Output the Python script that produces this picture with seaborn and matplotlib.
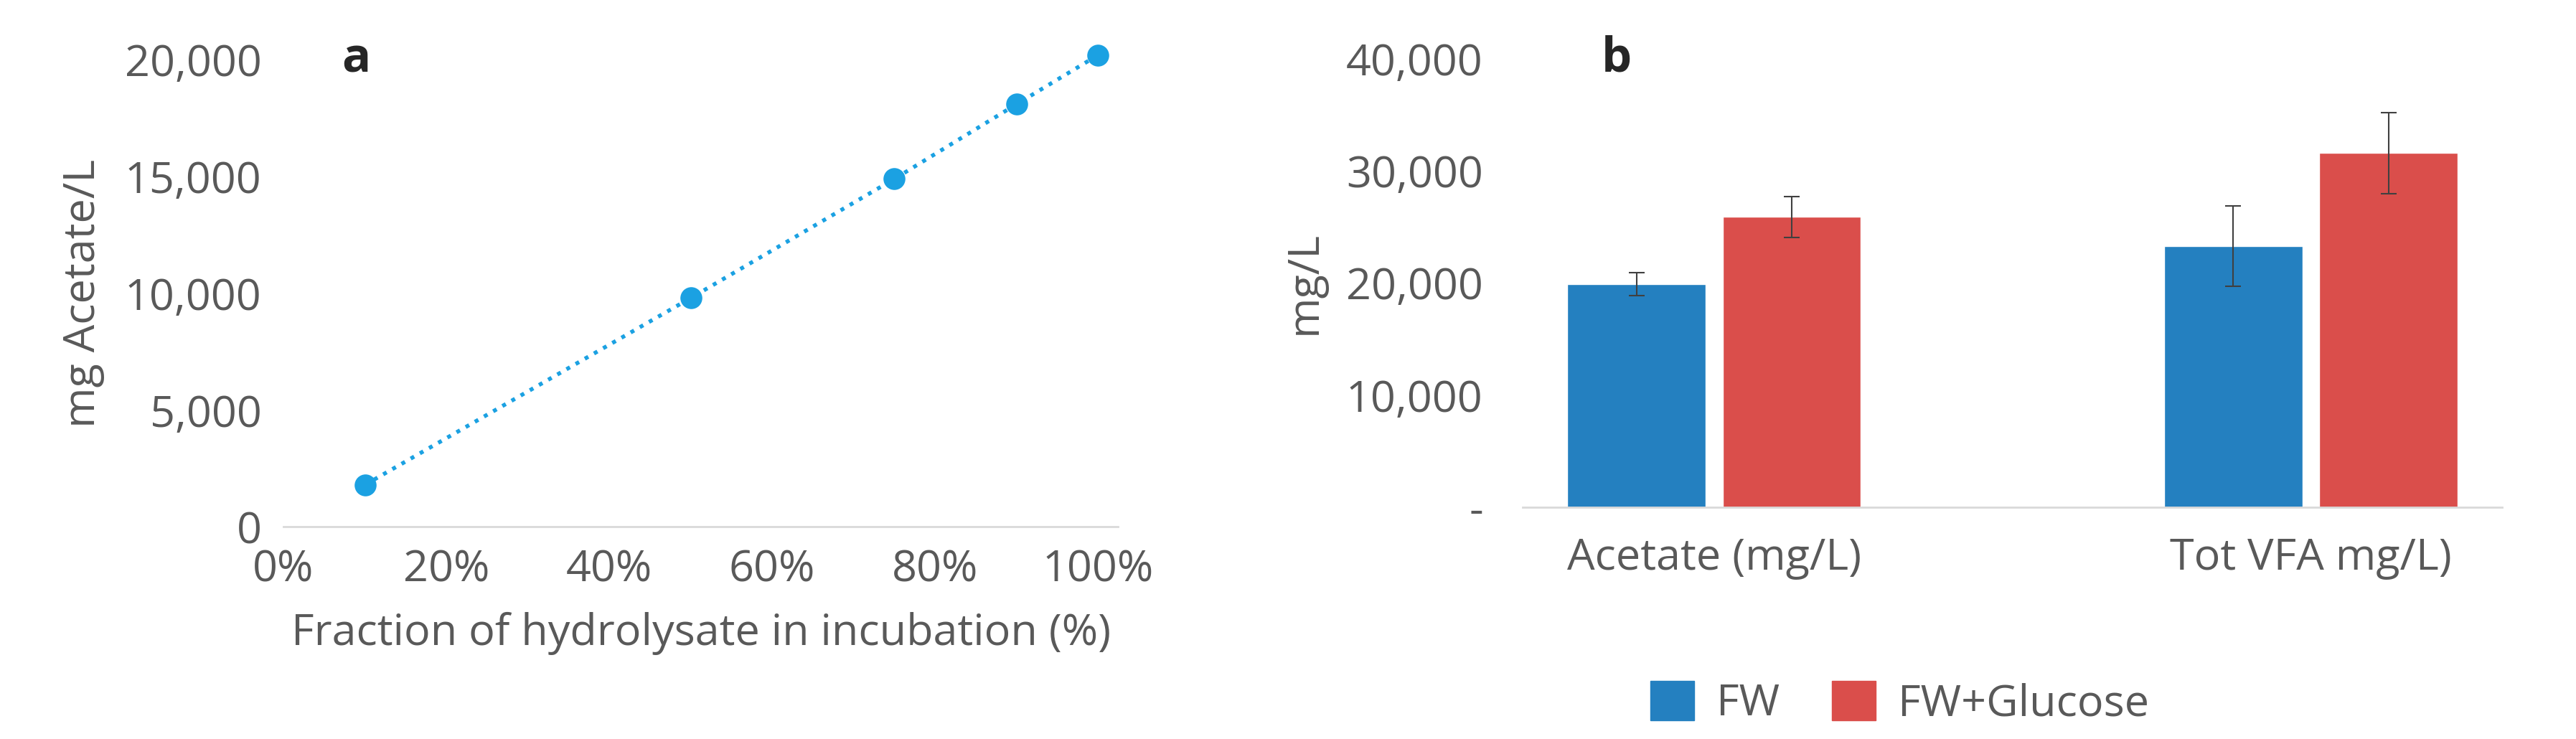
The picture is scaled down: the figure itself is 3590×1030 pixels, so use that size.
import pandas as pd
import matplotlib
matplotlib.use("Agg")
import matplotlib.pyplot as plt
import seaborn as sns
from matplotlib.ticker import FuncFormatter

sns.set_style("white")
plt.rcParams['font.family'] = ['Open Sans', 'DejaVu Sans']
grey = "#595959"

# panel a data
fraction = [0.10, 0.50, 0.75, 0.90, 1.00]
acetate_a = [1800, 9800, 14900, 18100, 20200]

# panel b data
categories = ["Acetate (mg/L)", "Tot VFA mg/L)"]
groups = ["FW", "FW+Glucose"]
means = {"FW": [19900, 23300], "FW+Glucose": [25900, 31600]}
errs = {"FW": [1000, 3600], "FW+Glucose": [1800, 3600]}
colors = ["#2480C0", "#DA4E4B"]

fig = plt.figure(figsize=(35.91, 10.30), dpi=100)

# ---- panel a
ax1 = fig.add_axes([0.110, 0.287, 0.324, 0.632])
sns.lineplot(x=fraction, y=acetate_a, ax=ax1, color="#1BA1E2", linestyle=":", linewidth=4,
             marker="o", markersize=22, markeredgewidth=0, clip_on=False)
ax1.set_xlim(0, 1.025)
ax1.set_ylim(0, 20000)
ax1.set_xticks([0, .2, .4, .6, .8, 1.0])
ax1.set_yticks(range(0, 20001, 5000))
ax1.xaxis.set_major_formatter(FuncFormatter(lambda v, p: f"{v*100:.0f}%"))
ax1.yaxis.set_major_formatter(FuncFormatter(lambda v, p: f"{v:,.0f}"))
for s in ["top", "right", "left"]:
    ax1.spines[s].set_visible(False)
ax1.spines["bottom"].set_color("#D9D9D9")
ax1.spines["bottom"].set_linewidth(2)
ax1.tick_params(labelsize=44, colors=grey, length=0, pad=22)
ax1.set_xlabel("Fraction of hydrolysate in incubation (%)", fontsize=44, color=grey, labelpad=20)
ax1.set_ylabel("mg Acetate/L", fontsize=44, color=grey, labelpad=20)
ax1.text(0.07, 1.0, "a", transform=ax1.transAxes, fontsize=48, fontweight="bold", va="center")

# ---- panel b
rows = []
for g in groups:
    for c, m in zip(categories, means[g]):
        rows.append({"cat": c, "group": g, "val": m})
df = pd.DataFrame(rows)
ax2 = fig.add_axes([0.591, 0.314, 0.380, 0.606])
sns.barplot(data=df, x="cat", y="val", hue="group", palette=colors, ax=ax2, saturation=1,
            width=0.52, gap=0.11, errorbar=None, legend=False)
for cont, g in zip(ax2.containers, groups):
    for bar, e in zip(cont, errs[g]):
        ax2.errorbar(bar.get_x() + bar.get_width() / 2, bar.get_height(), yerr=e,
                     color="#404040", capsize=8, elinewidth=1.5, capthick=1.5)
ax2.set_ylim(0, 40000)
ax2.set_yticks(range(0, 40001, 10000))
ax2.yaxis.set_major_formatter(FuncFormatter(lambda v, p: "-" if v == 0 else f"{v:,.0f}"))
for s in ["top", "right", "left"]:
    ax2.spines[s].set_visible(False)
ax2.spines["bottom"].set_color("#D9D9D9")
ax2.spines["bottom"].set_linewidth(2)
ax2.tick_params(labelsize=44, colors=grey, length=0, pad=30)
ax2.tick_params(axis="y", pad=40)
ax2.set_xlabel("")
ax2.set_ylabel("mg/L", fontsize=44, color=grey, labelpad=20)
ax2.text(0.08, 1.0, "b", transform=ax2.transAxes, fontsize=48, fontweight="bold", va="center")
handles = [plt.Rectangle((0, 0), 1, 1, color=c) for c in colors]
ax2.legend(handles, groups, loc="upper left", bbox_to_anchor=(0.09, -0.30), ncol=2,
           frameon=False, fontsize=44, labelcolor=grey, handlelength=1.0, handleheight=1.0,
           columnspacing=1.2, handletextpad=0.5)

fig.savefig("out.png", dpi=100)
